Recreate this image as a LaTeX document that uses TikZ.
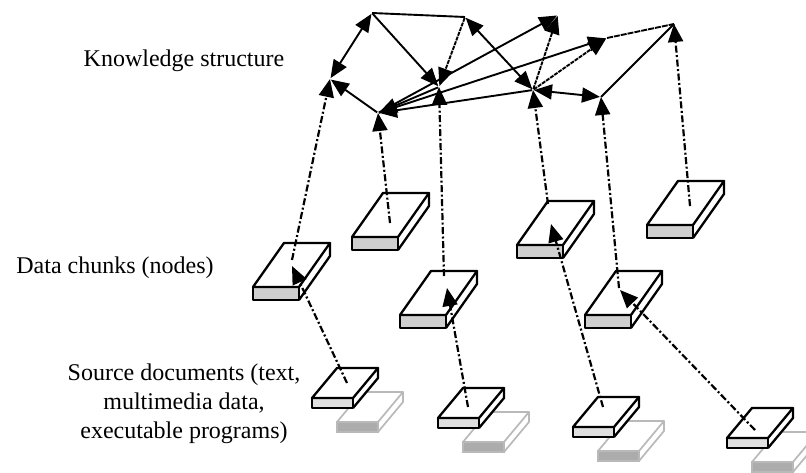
\documentclass[tikz,border=0pt]{standalone}
\usepackage{fontspec}
\setmainfont{Liberation Serif}
\usetikzlibrary{arrows.meta}

\tikzset{
  link/.style={line width=1.9pt, shorten >=1pt, shorten <=1pt, -{Triangle[length=18pt,width=15pt]}},
  bilink/.style={line width=1.9pt, shorten >=1pt, shorten <=1pt, {Triangle[length=18pt,width=15pt]}-{Triangle[length=18pt,width=15pt]}},
  plain/.style={line width=1.9pt},
  trace/.style={line width=2.2pt, dash pattern=on 7pt off 2.5pt on 2pt off 2.5pt, -{Triangle[length=18pt,width=15pt]}},
  lbl/.style={font=\fontsize{24}{29}\selectfont, inner sep=0pt},
  edge/.style={line width=2.3pt, line join=round},
  % a data chunk: a flat slab, origin at the front-left top corner
  chunk/.pic={
    \fill[white] (0,0) -- (31,-44) -- (77,-44) -- (77,-31) -- (46,13) -- (0,13) -- cycle;
    \filldraw[fill=gray!38, edge] (0,0) rectangle (46,13);
    \draw[edge] (0,0) -- (31,-44) -- (77,-44) -- (46,0) -- cycle;
    \draw[edge] (77,-44) -- (77,-31) -- (46,13);
  },
  % a source document: a small slab with a grey copy behind it
  srcdoc/.pic={
    \begin{scope}[shift={(25,24)}]
      \fill[white] (0,0) -- (25,-30) -- (66,-30) -- (66,-20) -- (41,10) -- (0,10) -- cycle;
      \filldraw[fill=gray!65, draw=gray!55, line width=1.7pt] (0,0) rectangle (41,10);
      \draw[gray!55, line width=1.7pt, line join=round] (0,0) -- (25,-30) -- (66,-30) -- (41,0) -- cycle;
      \draw[gray!55, line width=1.7pt, line join=round] (66,-30) -- (66,-20) -- (41,10);
    \end{scope}
    \fill[white] (0,0) -- (25,-30) -- (66,-30) -- (66,-20) -- (41,10) -- (0,10) -- cycle;
    \filldraw[fill=gray!25, edge] (0,0) rectangle (41,10);
    \draw[edge] (0,0) -- (25,-30) -- (66,-30) -- (41,0) -- cycle;
    \draw[edge] (66,-30) -- (66,-20) -- (41,10);
  }
}

\begin{document}
\begin{tikzpicture}[x=1pt,y=-1pt]
\useasboundingbox (0,0) rectangle (806,473);

% labels
\node[lbl, anchor=base] (ks) at (184,67) {Knowledge structure};
\node[lbl, anchor=base] (dc) at (115,273) {Data chunks (nodes)};
\node[lbl, align=center] (sd) at (184,404) {Source documents (text,\\multimedia data,\\executable programs)};

% source documents
\pic at (312,398) {srcdoc};
\pic at (438,418) {srcdoc};
\pic at (573,427) {srcdoc};
\pic at (727,438) {srcdoc};

% data chunks
\pic at (352,237) {chunk};
\pic at (253,287) {chunk};
\pic at (400,315) {chunk};
\pic at (517,245) {chunk};
\pic at (585,315) {chunk};
\pic at (647,225) {chunk};

% anchor points on the source documents
\coordinate (s1) at (347,383);
\coordinate (s2) at (468,407);
\coordinate (s3) at (603,407);
\coordinate (s4) at (755,430);

% anchor points on the data chunks
\coordinate (d1) at (390,223);
\coordinate (d2) at (292,260);
\coordinate (d3) at (444,276);
\coordinate (d4) at (548,204);
\coordinate (d5) at (619,288);
\coordinate (d6) at (690,206);
\coordinate (d2in) at (292,266);
\coordinate (d3in) at (447,288);
\coordinate (d4in) at (551,224);
\coordinate (d5in) at (620,290);

% knowledge structure nodes
\coordinate (k1) at (372,13);
\coordinate (k2) at (465,17);
\coordinate (k3) at (558,15);
\coordinate (k4) at (674,24);
\coordinate (k5) at (330,79);
\coordinate (k6) at (439,87);
\coordinate (k7) at (378,113);
\coordinate (k8) at (533,90);
\coordinate (k9) at (601,97);
\coordinate (kp) at (607,38);

% links of the knowledge structure
\draw[plain] (k1) -- (k2);
\draw[bilink] (k1) -- (k5);
\draw[link] (k1) -- (k6);
\draw[link, dash pattern=on 4pt off 1pt] (k2) -- (k6);
\draw[bilink] (k2) -- (k8);
\draw[link] (k7) -- (k5);
\draw[link] (k6) -- (k7);
\draw[link] (k8) -- (k7);
\draw[link] (k7) -- (k3);
\draw[link] (k7) -- (kp);
\draw[plain, dash pattern=on 6pt off 1pt] (kp) -- (k4);
\draw[link, dash pattern=on 4pt off 1pt] (k8) -- (kp);
\draw[link, dash pattern=on 4pt off 1pt] (k8) -- (k3);
\draw[bilink] (k8) -- (k9);
\draw[plain] (k9) -- (k4);

% traces from data chunks up to the knowledge structure
\draw[trace] (d2) -- (k5);
\draw[trace] (d1) -- (k7);
\draw[trace] (d3) -- (k6);
\draw[trace] (d4) -- (k8);
\draw[trace] (d5) -- (k9);
\draw[trace] (d6) -- (k4);

% traces from source documents up to the data chunks
\draw[trace] (s1) -- (d2in);
\draw[trace] (s2) -- (d3in);
\draw[trace] (s3) -- (d4in);
\draw[trace] (s4) -- (d5in);
\end{tikzpicture}
\end{document}
